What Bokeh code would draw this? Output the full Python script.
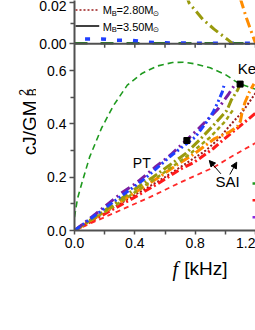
import math
from bokeh.plotting import figure
from bokeh.layouts import column, row
from bokeh.models import Range1d, FixedTicker, Span, Label, Arrow, NormalHead, PrintfTickFormatter
from bokeh.embed import file_html
from bokeh.resources import INLINE

# ---------------- data ----------------
x_major = [0.0, 0.4, 0.8, 1.2]
x_minor = [0.2, 0.6, 1.0]
y_major = [0.0, 0.2, 0.4, 0.6]
y_minor = [0.1, 0.3, 0.5]
top_major = [0.00, 0.02]
top_minor = [0.01]

# lower panel: cJ/GM_B^2 vs f [kHz]
green_f = [0.0, 0.02, 0.05, 0.10, 0.18, 0.26, 0.35, 0.45, 0.55, 0.65, 0.72, 0.80, 0.90, 1.00, 1.06, 1.10, 1.20]
green_j = [0.05, 0.12, 0.18, 0.275, 0.385, 0.47, 0.545, 0.59, 0.617, 0.63, 0.631, 0.625, 0.61, 0.585, 0.562, 0.549, 0.53]

blue_f = [0.0, 0.15, 0.30, 0.45, 0.65, 0.80, 0.88, 0.92, 0.95, 0.98, 0.995]
blue_j = [0.0, 0.062, 0.125, 0.187, 0.285, 0.35, 0.41, 0.445, 0.48, 0.52, 0.552]

purple_f = [0.0, 0.14, 0.31, 0.41, 0.54, 0.64, 0.82, 0.95, 1.02, 1.06]
purple_j = [0.0, 0.062, 0.14, 0.178, 0.24, 0.285, 0.38, 0.455, 0.51, 0.545]

olive_f = [0.0, 0.20, 0.36, 0.52, 0.63, 0.74, 0.83, 0.93, 1.01, 1.04, 1.08, 1.095]
olive_j = [0.0, 0.075, 0.14, 0.20, 0.245, 0.29, 0.34, 0.40, 0.45, 0.49, 0.525, 0.545]

olive2_f = [0.0, 0.30, 0.55, 0.75, 0.90, 1.00, 1.06]
olive2_j = [0.0, 0.105, 0.20, 0.28, 0.35, 0.41, 0.46]

orange_f = [0.0, 0.20, 0.45, 0.56, 0.69, 0.80, 0.93, 1.03, 1.08, 1.10, 1.11, 1.13, 1.16, 1.19]
orange_j = [0.0, 0.07, 0.16, 0.20, 0.25, 0.29, 0.345, 0.37, 0.39, 0.41, 0.44, 0.48, 0.52, 0.55]

red_f = [0.0, 0.20, 0.40, 0.55, 0.706, 0.79, 0.856, 0.92, 1.02, 1.085, 1.20]
red_j = [0.0, 0.062, 0.125, 0.175, 0.231, 0.255, 0.281, 0.3075, 0.356, 0.386, 0.44]

dred_f = [0.0, 0.30, 0.60, 0.87, 0.95, 1.02, 1.12, 1.20]
dred_j = [0.0, 0.10, 0.20, 0.30, 0.34, 0.387, 0.45, 0.515]

reddash_f = [0.0, 0.30, 0.50, 0.705, 0.92, 1.05, 1.20]
reddash_j = [0.0, 0.075, 0.125, 0.181, 0.236, 0.28, 0.328]

square_f = [0.745, 1.098]
square_j = [0.3375, 0.549]

# upper panel (0.00 ... 0.02)
tblue_f = [0.07, 0.177, 0.281, 0.386, 0.49, 0.595, 0.80, 1.00, 1.20]
tblue_v = [0.0024, 0.0024, 0.0018, 0.0016, 0.0008, 0.0005, 0.0003, 0.0003, 0.0003]
tgreen_f = [0.0, 0.3, 0.6, 0.9, 1.2]
tgreen_v = [0.0003, 0.0003, 0.0003, 0.0003, 0.0003]
tolive_f = [0.74, 0.76, 0.85, 0.925, 1.02, 1.05]
tolive_v = [0.024, 0.0199, 0.012, 0.0072, 0.0018, 0.0]
torange_f = [1.10, 1.14, 1.19, 1.20]
torange_v = [0.022, 0.0126, 0.0023, 0.0005]

# right-edge legend keys of lower panel
key_j = [0.176, 0.113, 0.05]
key_colors = ["#1f9a1f", "#ff1a1a", "#8a2be2"]

# ---------------- layout geometry ----------------
TOTAL_W, TOTAL_H = 255, 330
YL_W = 36                       # strip holding the y-axis title
MAIN_W = TOTAL_W - YL_W
MAIN_H = 253
XL_H = TOTAL_H - MAIN_H         # strip holding the x-axis title
B_LEFT, B_BOTTOM = 36, 23
frame_w = MAIN_W - B_LEFT
frame_h = MAIN_H - B_BOTTOM
XMAX = 1.2
px_per_j = 160 / 0.6            # 0.2 per 53.3 px
YMAX = frame_h / px_per_j
SPLIT = 0.70                    # lower panel top == upper panel 0.00
px_per_top = 2050.0             # pixels per unit in upper panel
top_start = -SPLIT * px_per_j / px_per_top
top_end = (frame_h - SPLIT * px_per_j) / px_per_top

FONT = "Liberation Sans"
AX = "#505050"

p = figure(width=MAIN_W, height=MAIN_H, output_backend="svg", toolbar_location=None,
           x_range=Range1d(0, XMAX), y_range=Range1d(0, YMAX),
           min_border_left=B_LEFT, min_border_right=0, min_border_top=0,
           min_border_bottom=B_BOTTOM, background_fill_color="white",
           border_fill_color="white")
p.extra_y_ranges = {"top": Range1d(top_start, top_end)}
p.outline_line_color = None
p.xgrid.grid_line_color = None
p.ygrid.grid_line_color = None

for ax in (p.xaxis[0], p.yaxis[0]):
    ax.axis_line_color = AX
    ax.axis_line_width = 2
    ax.major_tick_line_color = AX
    ax.minor_tick_line_color = AX
    ax.major_tick_line_width = 1.5
    ax.minor_tick_line_width = 1.5
    ax.major_tick_in = 0
    ax.minor_tick_in = 0
    ax.major_label_text_font = FONT
    ax.major_label_text_font_size = "14px"
    ax.major_label_text_color = "black"

p.xaxis.ticker = FixedTicker(ticks=x_major, minor_ticks=x_minor)
p.xaxis.formatter = PrintfTickFormatter(format="%.1f")
p.xaxis.major_tick_out = 4
p.xaxis.minor_tick_out = 4
p.xaxis.major_label_standoff = 3

# upper-panel ticks expressed on the shared left axis through the two scales
def top_to_j(v):
    return SPLIT + v * px_per_top / px_per_j

top_major_j = [top_to_j(v) for v in top_major]
top_minor_j = [top_to_j(v) for v in top_minor]
p.yaxis.ticker = FixedTicker(ticks=y_major + top_major_j, minor_ticks=y_minor + top_minor_j)
p.yaxis.formatter = PrintfTickFormatter(format="%.1f")
p.yaxis.major_label_overrides = {tj: "%.2f" % v for tj, v in zip(top_major_j, top_major)}
p.yaxis.major_tick_out = 5
p.yaxis.minor_tick_out = 4
p.yaxis.major_label_standoff = 3

# panel separator with downward ticks
p.add_layout(Span(location=SPLIT, dimension="width", line_color=AX, line_width=2))
tick_len = 4 / px_per_j
top_ticks = [t for t in sorted(x_major + x_minor) if t > 0]
p.segment(x0=top_ticks, y0=[SPLIT] * len(top_ticks), x1=top_ticks,
          y1=[SPLIT - tick_len] * len(top_ticks), line_color=AX, line_width=1.5)

# lower-panel curves
p.line(green_f, green_j, line_color="#1f9a1f", line_dash="6 4", line_width=1.6)
p.line(reddash_f, reddash_j, line_color="#ff2a2a", line_dash="5 4", line_width=1.8)
p.line(dred_f, dred_j, line_color="#9b1c1c", line_dash="2 2", line_width=2)
p.line(red_f, red_j, line_color="#ff1a1a", line_dash="8 3 2 3", line_width=3)
p.line(orange_f, orange_j, line_color="#ff8c00", line_dash="10 3 2 3", line_width=3)
p.line(olive2_f, olive2_j, line_color="#a0a010", line_dash="4 3", line_width=2.5)
p.line(olive_f, olive_j, line_color="#999a0d", line_dash="10 3 2 3", line_width=3)
p.line(purple_f, purple_j, line_color="#7b1fa2", line_dash="10 4 2 4", line_width=3)
p.line(blue_f, blue_j, line_color="#1f3fff", line_dash="7 3 2 3 2 3", line_width=3)
p.scatter(square_f, square_j, marker="square", size=6, color="black")

# upper-panel curves
p.line(tgreen_f, tgreen_v, y_range_name="top", line_color="#2a7a2a", line_dash="13 13", line_width=2.5)
p.line(tblue_f, tblue_v, y_range_name="top", line_color="#1f3fff", line_dash="5 11", line_width=3.5)
p.line(tolive_f, tolive_v, y_range_name="top", line_color="#999a0d", line_dash="10 4 2 4", line_width=3)
p.line(torange_f, torange_v, y_range_name="top", line_color="#ff8c00", line_dash="10 4 2 4", line_width=3)

# helpers: picture pixel -> data coordinate of the main frame (annotation placement)
def fx(X):
    return (X - 72) / (frame_w / XMAX)

def jy(Y):
    return (230 - Y) / px_per_j

# right-edge legend keys (cut by the picture edge)
for kj, kc in zip(key_j, key_colors):
    p.line([fx(252), XMAX], [kj, kj], line_color=kc, line_width=2.5)

# upper-panel legend keys
p.line([fx(73), fx(97)], [jy(9.5), jy(9.5)], line_color="#9b1c1c", line_dash="2 2", line_width=1.5)
p.line([fx(73), fx(97)], [jy(25.5), jy(25.5)], line_color="black", line_width=1.5)

def lab(fig, x, y, text, size, font=FONT, style="normal", angle=0.0,
        align="left", baseline="middle"):
    fig.add_layout(Label(x=x, y=y, text=text, angle=angle,
                         text_font=font, text_font_size=size,
                         text_font_style=style, text_color="black",
                         text_align=align, text_baseline=baseline))

def mlab(X, Y, text, size, **kw):
    lab(p, fx(X), jy(Y), text, size, **kw)

for mid, val in ((9.5, "2.80"), (26.0, "3.50")):
    mlab(100.5, mid, "M", "11px")
    mlab(109.7, mid + 3.0, "B", "7.5px")
    mlab(114.5, mid, "=" + val + "M", "11px")
    mlab(151.0, mid + 3.0, "\u2299", "7.5px", font="DejaVu Sans")

mlab(237, 67.5, "Kep", "15px")
mlab(131, 162, "PT", "14px")
mlab(214.5, 181, "SAI", "15px")
for xs, ys, xe, ye in ((220, 173.3, 208.3, 160), (229, 174, 236, 161.7)):
    p.add_layout(Arrow(x_start=fx(xs), y_start=jy(ys), x_end=fx(xe), y_end=jy(ye),
                       line_width=1, line_color="black",
                       end=NormalHead(size=6, fill_color="black", line_color="black")))

# ---------------- title strips (pixel ranges) ----------------
def strip(w, h):
    f = figure(width=w, height=h, output_backend="svg", toolbar_location=None,
               x_range=Range1d(0, w), y_range=Range1d(0, h),
               x_axis_type=None, y_axis_type=None, min_border=0,
               background_fill_color="white", border_fill_color="white")
    f.outline_line_color = None
    f.grid.visible = False
    return f

yl = strip(YL_W, MAIN_H)
lab(yl, 28.5, MAIN_H - 140, "cJ/GM", "19px", angle=math.pi / 2, align="center")
lab(yl, 32.0, MAIN_H - 101, "B", "12px", angle=math.pi / 2, align="center")
lab(yl, 23.0, MAIN_H - 101, "2", "12px", angle=math.pi / 2, align="center")

xl = strip(TOTAL_W, XL_H)
lab(xl, 172, TOTAL_H - 268.3, "f", "20px", font="Liberation Serif", style="italic")
lab(xl, 183.7, TOTAL_H - 268.3, "[kHz]", "19px")

layout = column(row(yl, p), xl)
open("out.html", "w").write(file_html(layout, INLINE))
